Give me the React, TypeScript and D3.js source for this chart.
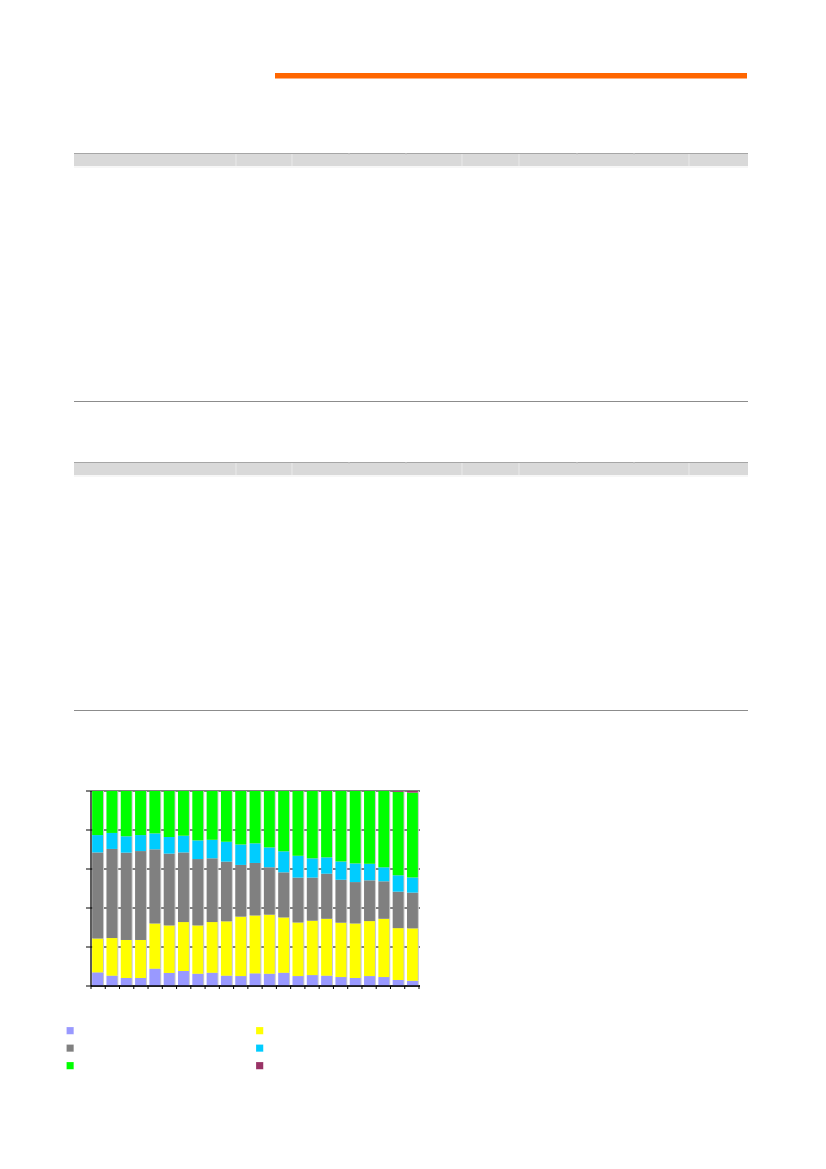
import React from 'react'
import * as d3 from 'd3'

// 23 periods, no labels printed on the chart
const categories = d3.range(1, 24).map(String)

const seriesNames = ['s1', 's2', 's3', 's4', 's5', 's6']
const colors = ['#9999FF', '#FFFF00', '#808080', '#00CCFF', '#00FF00', '#993366']

// shares in % (bottom to top)
const purple = [7.0, 5.3, 4.1, 4.1, 8.9, 6.7, 7.7, 6.3, 6.8, 5.3, 5.1, 6.5, 6.3, 6.8, 5.1, 5.6, 5.3, 4.6, 4.1, 5.1, 4.6, 3.1, 2.7]
const yellow = [17.4, 19.3, 19.5, 19.5, 23.2, 24.4, 25.1, 24.8, 26.0, 27.9, 30.5, 29.7, 30.3, 28.4, 27.5, 27.9, 29.2, 27.9, 28.0, 28.2, 29.9, 26.6, 26.9]
const gray = [44.1, 45.7, 44.8, 45.6, 38.0, 36.8, 35.7, 34.0, 32.7, 30.6, 26.5, 26.9, 24.3, 23.1, 23.0, 22.1, 23.1, 22.0, 21.2, 20.9, 19.2, 18.7, 18.3]
const cyan = [8.9, 8.2, 8.4, 8.2, 8.2, 8.5, 8.6, 9.6, 9.5, 10.2, 10.5, 10.1, 10.2, 10.8, 11.2, 9.9, 8.4, 9.4, 9.6, 8.5, 7.2, 8.4, 7.8]
const maroon = [0, 0, 0, 0, 0, 0, 0, 0, 0, 0, 0, 0, 0, 0, 0, 0, 0, 0, 0, 0, 0, 0.4, 0.8]
const green = categories.map((_, i) => 100 - purple[i] - yellow[i] - gray[i] - cyan[i] - maroon[i])

const yTicks = [0, 20, 40, 60, 80, 100]

// column edges of the two empty table headers
const strongCols = [236, 292, 462, 519, 689]
const faintCols = [349, 406, 577, 634]

const W = 826
const H = 1169

function TableBlock({ top, bottom }: { top: number; bottom: number }) {
  return (
    <g>
      <rect x={74} y={top} width={674} height={13} fill="#D9D9D9" />
      <line x1={74} x2={748} y1={top + 0.5} y2={top + 0.5} stroke="#A6A6A6" strokeWidth={1.2} />
      <line x1={74} x2={748} y1={top + 14} y2={top + 14} stroke="#EEEEEE" strokeWidth={1} />
      {strongCols.map(x => (
        <line key={x} x1={x} x2={x} y1={top + 1} y2={top + 13} stroke="#EAEAEA" strokeWidth={1} />
      ))}
      {faintCols.map(x => (
        <line key={x} x1={x} x2={x} y1={top} y2={top + 2} stroke="#C8C8C8" strokeWidth={1} />
      ))}
      <line x1={74} x2={748} y1={bottom} y2={bottom} stroke="#8C8C8C" strokeWidth={1} />
    </g>
  )
}

export default function App() {
  const x0 = 91
  const x1 = 419
  const yTop = 791
  const yBottom = 986

  const rows = categories.map((c, i) => ({
    cat: c,
    s1: purple[i],
    s2: yellow[i],
    s3: gray[i],
    s4: cyan[i],
    s5: green[i],
    s6: maroon[i],
  }))

  const stack = d3.stack<any>().keys(seriesNames)
  const layers = stack(rows)

  const x = d3.scaleBand<string>()
    .domain(categories)
    .range([x0, x1])
    .paddingInner(0.24)
    .paddingOuter(0.08)

  const edges = d3.scaleLinear().domain([0, categories.length]).range([x0, x1])

  const y = d3.scaleLinear().domain([0, 100]).range([yBottom, yTop])

  const legendX = [66.5, 256]
  const legendY = [1027, 1044.5, 1062]

  return (
    <svg width={W} height={H} viewBox={`0 0 ${W} ${H}`}
      style={{ position: 'absolute', left: 0, top: 0, background: '#fff' }}>
      <rect x={0} y={0} width={W} height={H} fill="#fff" />

      {/* orange rule */}
      <rect x={275} y={73} width={472} height={5.5} fill="#FF6600" />

      <TableBlock top={153} bottom={401.5} />
      <TableBlock top={462} bottom={710.5} />

      {/* gridlines behind the bars */}
      {yTicks.map(t => (
        <line key={t} x1={x0 - 5} x2={x1 + 1} y1={y(t)} y2={y(t)} stroke="#000" strokeWidth={1} />
      ))}

      {/* bars */}
      {layers.map((layer, li) => (
        <g key={layer.key}>
          {layer.map((d, i) => {
            const h = y(d[0]) - y(d[1])
            if (h <= 0) return null
            return (
              <g key={i}>
                <rect x={(x(categories[i]) as number) + 1} y={y(d[1])} width={x.bandwidth()} height={h}
                  fill="#C8C8C8" />
                <rect x={x(categories[i])} y={y(d[1])} width={x.bandwidth()} height={h}
                  fill={colors[li]} />
              </g>
            )
          })}
        </g>
      ))}

      {/* axes */}
      <line x1={x0} x2={x0} y1={yTop} y2={yBottom} stroke="#000" strokeWidth={1.3} />
      <line x1={x0} x2={x1 + 1} y1={yBottom} y2={yBottom} stroke="#000" strokeWidth={1.3} />
      {d3.range(categories.length + 1).map(k => (
        <line key={k} x1={edges(k)} x2={edges(k)} y1={yBottom} y2={yBottom + 3} stroke="#000" strokeWidth={1} />
      ))}

      {/* legend, entries carry no text */}
      {seriesNames.map((s, i) => {
        const col = i % 2
        const row = Math.floor(i / 2)
        return (
          <rect key={s} x={legendX[col]} y={legendY[row]} width={7.3} height={7.3}
            fill={colors[i]} stroke="#fff" strokeOpacity={0.4} strokeWidth={0.5} />
        )
      })}
    </svg>
  )
}
